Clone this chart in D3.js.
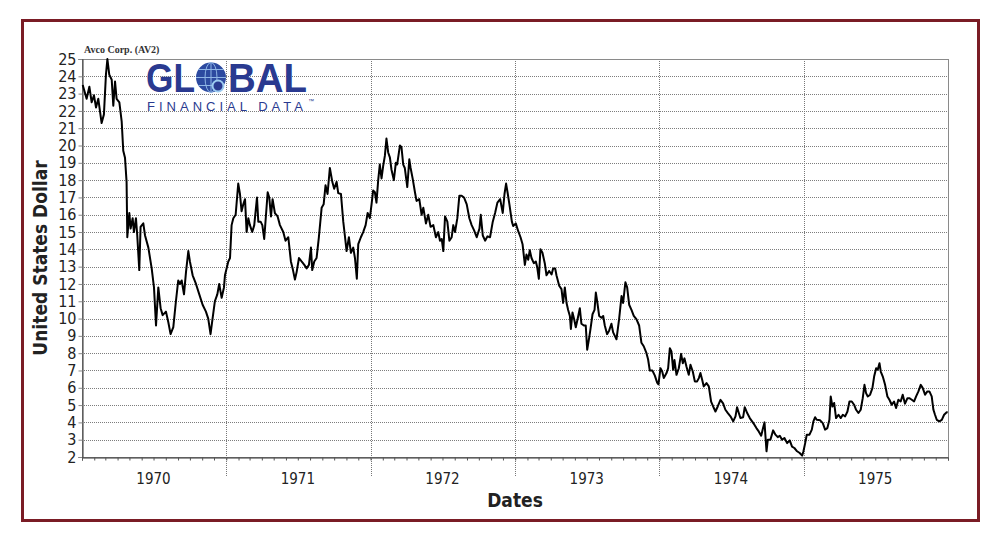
<!DOCTYPE html>
<html>
<head>
<meta charset="utf-8">
<script src="https://cdn.jsdelivr.net/npm/d3@7"></script>
<style>
  body { margin: 0; background: #fff; }
  svg { display: block; }
</style>
</head>
<body>
<div id="chart"></div>
<script>
// Price data, decimal years and US dollars, one block per year
const t1970 = [1970.005, 1970.032, 1970.051, 1970.067, 1970.083, 1970.097, 1970.113, 1970.136, 1970.152, 1970.166, 1970.176, 1970.189, 1970.206, 1970.217, 1970.229, 1970.240, 1970.259, 1970.275, 1970.286, 1970.298, 1970.309, 1970.314, 1970.328, 1970.337, 1970.351, 1970.360, 1970.374, 1970.383, 1970.397, 1970.406, 1970.425, 1970.437, 1970.460, 1970.483, 1970.499, 1970.513, 1970.529, 1970.545, 1970.559, 1970.582, 1970.598, 1970.614, 1970.633, 1970.651, 1970.667, 1970.679, 1970.691, 1970.707, 1970.721, 1970.737, 1970.748, 1970.767, 1970.790, 1970.813, 1970.836, 1970.859, 1970.875, 1970.891, 1970.905, 1970.921, 1970.938, 1970.951, 1970.968, 1970.984];
const p1970 = [23.5, 22.7, 23.4, 22.5, 22.9, 22.2, 22.7, 21.3, 21.8, 24.1, 25.0, 24.1, 23.8, 22.3, 23.7, 22.7, 22.5, 21.4, 19.7, 19.3, 17.9, 14.7, 16.1, 15.2, 15.8, 15.0, 15.8, 14.8, 12.8, 15.3, 15.5, 14.8, 14.1, 12.9, 11.8, 9.6, 11.8, 10.6, 10.2, 10.4, 9.8, 9.1, 9.5, 11.0, 12.2, 12.0, 12.2, 11.4, 12.7, 13.9, 13.3, 12.5, 12.0, 11.4, 10.8, 10.4, 10.0, 9.1, 10.0, 11.0, 11.4, 12.0, 11.2, 11.8];

const t1971 = [1970.991, 1971.014, 1971.026, 1971.037, 1971.049, 1971.065, 1971.083, 1971.095, 1971.106, 1971.118, 1971.130, 1971.141, 1971.153, 1971.164, 1971.180, 1971.194, 1971.213, 1971.222, 1971.238, 1971.250, 1971.263, 1971.287, 1971.298, 1971.310, 1971.321, 1971.337, 1971.356, 1971.372, 1971.395, 1971.411, 1971.430, 1971.448, 1971.460, 1971.476, 1971.488, 1971.504, 1971.522, 1971.541, 1971.557, 1971.573, 1971.587, 1971.596, 1971.610, 1971.626, 1971.642, 1971.661, 1971.675, 1971.688, 1971.702, 1971.718, 1971.735, 1971.748, 1971.765, 1971.776, 1971.795, 1971.811, 1971.822, 1971.834, 1971.850, 1971.864, 1971.880, 1971.892, 1971.905, 1971.915, 1971.933, 1971.949, 1971.966, 1971.980];
const p1971 = [12.5, 13.3, 13.5, 15.4, 15.8, 16.0, 17.8, 17.2, 16.2, 16.6, 16.9, 15.0, 15.8, 15.4, 15.0, 15.4, 17.0, 15.6, 15.6, 15.4, 14.6, 17.3, 17.0, 15.9, 16.9, 16.1, 15.9, 15.4, 15.0, 14.5, 14.7, 13.3, 12.9, 12.25, 12.7, 13.5, 13.3, 13.1, 12.9, 13.1, 14.1, 12.8, 13.3, 13.5, 14.7, 16.4, 16.6, 17.7, 17.2, 18.7, 17.9, 17.5, 17.9, 17.25, 17.2, 15.6, 14.8, 13.9, 14.7, 13.8, 14.1, 13.5, 12.3, 14.3, 14.7, 15.0, 15.4, 16.1];

const t1972 = [1971.995, 1972.007, 1972.018, 1972.030, 1972.041, 1972.053, 1972.064, 1972.076, 1972.087, 1972.099, 1972.110, 1972.122, 1972.134, 1972.145, 1972.161, 1972.175, 1972.184, 1972.203, 1972.214, 1972.226, 1972.237, 1972.254, 1972.268, 1972.277, 1972.291, 1972.307, 1972.318, 1972.337, 1972.353, 1972.365, 1972.383, 1972.399, 1972.415, 1972.434, 1972.452, 1972.468, 1972.480, 1972.492, 1972.503, 1972.515, 1972.531, 1972.545, 1972.561, 1972.572, 1972.584, 1972.600, 1972.614, 1972.630, 1972.646, 1972.665, 1972.683, 1972.699, 1972.716, 1972.734, 1972.753, 1972.762, 1972.776, 1972.792, 1972.808, 1972.826, 1972.845, 1972.861, 1972.877, 1972.896, 1972.914, 1972.926, 1972.937, 1972.947, 1972.960, 1972.977];
const p1972 = [15.8, 16.6, 17.4, 17.3, 16.7, 18.0, 18.9, 18.1, 18.8, 19.4, 20.4, 19.6, 19.3, 18.6, 18.0, 19.0, 18.9, 20.0, 19.9, 18.9, 18.7, 17.6, 19.2, 18.7, 18.1, 17.3, 16.8, 16.9, 16.0, 16.4, 15.5, 16.0, 15.3, 15.4, 14.7, 15.0, 14.5, 14.6, 13.9, 15.9, 15.6, 14.5, 14.7, 15.4, 15.0, 15.8, 17.1, 17.1, 17.0, 16.6, 15.8, 15.4, 15.1, 14.7, 15.2, 16.0, 14.8, 14.5, 14.75, 14.7, 15.6, 16.1, 16.7, 16.9, 16.1, 17.2, 17.8, 17.3, 16.6, 15.6];

const t1973 = [1972.986, 1973.004, 1973.021, 1973.037, 1973.051, 1973.067, 1973.078, 1973.090, 1973.101, 1973.113, 1973.129, 1973.143, 1973.152, 1973.164, 1973.175, 1973.189, 1973.205, 1973.217, 1973.235, 1973.252, 1973.263, 1973.277, 1973.286, 1973.305, 1973.321, 1973.332, 1973.344, 1973.356, 1973.367, 1973.379, 1973.386, 1973.397, 1973.409, 1973.420, 1973.432, 1973.448, 1973.459, 1973.476, 1973.489, 1973.499, 1973.513, 1973.522, 1973.536, 1973.550, 1973.559, 1973.570, 1973.582, 1973.598, 1973.610, 1973.621, 1973.637, 1973.651, 1973.667, 1973.679, 1973.702, 1973.720, 1973.737, 1973.748, 1973.764, 1973.776, 1973.790, 1973.806, 1973.822, 1973.841, 1973.859, 1973.875, 1973.891, 1973.910, 1973.921, 1973.933, 1973.951, 1973.968, 1973.984, 1973.993];
const p1973 = [15.35, 15.5, 15.05, 14.7, 14.3, 13.1, 13.7, 13.4, 13.95, 13.5, 13.2, 13.3, 13.0, 12.3, 14.0, 13.8, 13.2, 12.5, 12.75, 12.55, 12.9, 12.9, 12.5, 11.9, 11.7, 10.9, 11.8, 10.9, 10.5, 10.15, 9.4, 10.35, 9.95, 9.5, 9.95, 10.6, 9.7, 9.6, 9.6, 8.2, 8.9, 9.4, 10.25, 10.5, 11.5, 10.9, 10.15, 10.05, 10.15, 9.6, 9.1, 9.3, 9.7, 9.2, 8.8, 9.95, 11.3, 10.9, 12.1, 11.8, 10.8, 10.5, 10.15, 9.95, 9.6, 8.6, 8.4, 8.0, 7.65, 7.0, 7.0, 6.7, 6.3, 6.2];

const t1974 = [1974.007, 1974.019, 1974.030, 1974.049, 1974.060, 1974.072, 1974.083, 1974.095, 1974.104, 1974.118, 1974.134, 1974.150, 1974.162, 1974.173, 1974.187, 1974.203, 1974.215, 1974.231, 1974.245, 1974.261, 1974.273, 1974.284, 1974.296, 1974.307, 1974.326, 1974.342, 1974.358, 1974.377, 1974.388, 1974.404, 1974.423, 1974.441, 1974.457, 1974.474, 1974.492, 1974.511, 1974.527, 1974.538, 1974.550, 1974.561, 1974.580, 1974.591, 1974.608, 1974.626, 1974.642, 1974.658, 1974.672, 1974.688, 1974.705, 1974.718, 1974.728, 1974.742, 1974.751, 1974.769, 1974.788, 1974.804, 1974.820, 1974.834, 1974.850, 1974.866, 1974.885, 1974.903, 1974.919, 1974.935, 1974.954, 1974.972, 1974.989];
const p1974 = [7.13, 6.94, 6.56, 6.85, 7.13, 8.29, 8.1, 7.04, 7.6, 6.75, 7.13, 7.96, 7.42, 7.7, 7.23, 6.75, 7.33, 6.94, 6.37, 6.37, 6.56, 6.85, 6.46, 6.08, 6.27, 6.08, 5.2, 4.83, 4.63, 4.92, 5.3, 5.1, 4.73, 4.54, 4.35, 4.06, 4.35, 4.88, 4.54, 4.25, 4.3, 4.88, 4.54, 4.25, 4.06, 3.87, 3.67, 3.48, 3.23, 3.67, 4.0, 2.33, 3.0, 3.0, 3.54, 3.29, 3.15, 3.23, 3.0, 3.1, 2.8, 2.96, 2.6, 2.52, 2.33, 2.23, 2.08];

const t1975 = [1974.998, 1975.010, 1975.021, 1975.040, 1975.056, 1975.067, 1975.079, 1975.090, 1975.114, 1975.132, 1975.148, 1975.164, 1975.178, 1975.187, 1975.199, 1975.211, 1975.224, 1975.241, 1975.257, 1975.271, 1975.287, 1975.303, 1975.317, 1975.333, 1975.349, 1975.363, 1975.379, 1975.395, 1975.409, 1975.421, 1975.432, 1975.444, 1975.460, 1975.476, 1975.488, 1975.502, 1975.513, 1975.525, 1975.534, 1975.548, 1975.564, 1975.580, 1975.594, 1975.610, 1975.626, 1975.640, 1975.656, 1975.672, 1975.686, 1975.702, 1975.719, 1975.732, 1975.749, 1975.765, 1975.779, 1975.795, 1975.811, 1975.825, 1975.841, 1975.857, 1975.871, 1975.887, 1975.899, 1975.910, 1975.922, 1975.940, 1975.957, 1975.973, 1975.991, 1975.998];
const p1975 = [2.33, 2.8, 3.29, 3.29, 3.58, 4.06, 4.3, 4.15, 4.12, 3.96, 3.58, 3.67, 4.15, 5.5, 4.92, 5.12, 4.25, 4.44, 4.25, 4.44, 4.35, 4.63, 5.21, 5.21, 5.02, 4.73, 4.54, 4.73, 5.4, 6.17, 5.69, 5.5, 5.6, 5.98, 6.65, 7.13, 7.04, 7.42, 6.94, 6.65, 6.17, 5.5, 5.31, 5.02, 5.21, 4.83, 5.31, 5.21, 5.6, 5.08, 5.4, 5.4, 5.31, 5.21, 5.5, 5.79, 6.17, 5.98, 5.6, 5.79, 5.79, 5.5, 4.73, 4.44, 4.15, 4.06, 4.15, 4.44, 4.58, 4.58];

const years = [1970, 1971, 1972, 1973, 1974, 1975];
const yTicks = d3.range(2, 26);
const chartTitle = "Avco Corp. (AV2)";
const yTitle = "United States Dollar";
const xTitle = "Dates";

// turn decimal year into a Date
function decYear(t) {
  const y = Math.floor(t);
  const start = new Date(y, 0, 1), end = new Date(y + 1, 0, 1);
  return new Date(+start + (t - y) * (end - start));
}

// Build one series out of the yearly blocks
const series = [];
[[t1970, p1970], [t1971, p1971], [t1972, p1972], [t1973, p1973], [t1974, p1974], [t1975, p1975]]
  .forEach(([ts, ps]) => {
    const n = Math.min(ts.length, ps.length);
    for (let i = 0; i < n; i++) series.push({ date: decYear(ts[i]), value: ps[i] });
  });

const width = 1000, height = 544;
const margin = { top: 59, right: 52, bottom: 87, left: 82 };

const svg = d3.select("#chart").append("svg")
  .attr("width", width)
  .attr("height", height);

// Outer frame
svg.append("rect")
  .attr("x", 22.5).attr("y", 20.5)
  .attr("width", 956).attr("height", 500)
  .attr("fill", "#fff")
  .attr("stroke", "#7a1c25")
  .attr("stroke-width", 3);

const x = d3.scaleTime()
  .domain([new Date(1970, 0, 1), new Date(1976, 0, 1)])
  .range([margin.left, width - margin.right]);

const y = d3.scaleLinear()
  .domain([2, 25])
  .range([height - margin.bottom, margin.top]);

// Horizontal gridlines
svg.append("g")
  .selectAll("line")
  .data(yTicks.filter(d => d > 2 && d < 25))
  .enter().append("line")
  .attr("x1", margin.left).attr("x2", width - margin.right)
  .attr("y1", d => Math.round(y(d)) + 0.5).attr("y2", d => Math.round(y(d)) + 0.5)
  .attr("stroke", "#7d7d7d")
  .attr("stroke-dasharray", "1,1");

// Year separators, they run a bit below the axis
svg.append("g")
  .selectAll("line")
  .data(years.slice(1))
  .enter().append("line")
  .attr("x1", d => Math.round(x(new Date(d, 0, 1))) + 0.5)
  .attr("x2", d => Math.round(x(new Date(d, 0, 1))) + 0.5)
  .attr("y1", margin.top).attr("y2", height - margin.bottom + 20)
  .attr("stroke", "#777")
  .attr("stroke-dasharray", "1,1");

// Plot box
svg.append("rect")
  .attr("x", margin.left + 0.5).attr("y", margin.top + 0.5)
  .attr("width", width - margin.left - margin.right)
  .attr("height", height - margin.top - margin.bottom)
  .attr("fill", "none")
  .attr("stroke", "#8a8a8a");

// Logo
const logo = svg.append("g").attr("fill", "#2a3a90");
logo.append("text")
  .attr("x", 146).attr("y", 91.5)
  .attr("font-family", "Liberation Sans, Arial").attr("font-weight", "bold")
  .attr("font-size", 40)
  .attr("textLength", 49).attr("lengthAdjust", "spacingAndGlyphs")
  .text("GL");
logo.append("text")
  .attr("x", 228).attr("y", 91.5)
  .attr("font-family", "Liberation Sans, Arial").attr("font-weight", "bold")
  .attr("font-size", 40)
  .attr("textLength", 79).attr("lengthAdjust", "spacingAndGlyphs")
  .text("BAL");
const globe = logo.append("g");
globe.append("circle").attr("cx", 211).attr("cy", 77.5).attr("r", 15).attr("fill", "#2c4aa0");
globe.append("ellipse").attr("cx", 211).attr("cy", 77.5).attr("rx", 6).attr("ry", 15)
  .attr("fill", "none").attr("stroke", "#8fb6e6").attr("stroke-width", 1);
[-8, 0, 8].forEach(dy => {
  globe.append("line")
    .attr("x1", 211 - Math.sqrt(225 - dy * dy)).attr("x2", 211 + Math.sqrt(225 - dy * dy))
    .attr("y1", 77.5 + dy).attr("y2", 77.5 + dy)
    .attr("stroke", "#8fb6e6").attr("stroke-width", 1);
});
globe.append("line").attr("x1", 211).attr("x2", 211).attr("y1", 62.5).attr("y2", 92.5)
  .attr("stroke", "#8fb6e6").attr("stroke-width", 1);
globe.append("circle").attr("cx", 218).attr("cy", 86).attr("r", 5.5)
  .attr("fill", "#2a3a90").attr("stroke", "#9ccbf0").attr("stroke-width", 2);
logo.append("text")
  .attr("x", 147).attr("y", 110.5)
  .attr("font-family", "Liberation Sans, Arial").attr("font-size", 13)
  .attr("textLength", 156).attr("lengthAdjust", "spacing")
  .text("FINANCIAL DATA");
logo.append("text")
  .attr("x", 308).attr("y", 103)
  .attr("font-family", "Liberation Sans, Arial").attr("font-size", 6)
  .text("™");

// Y axis
const yAxis = svg.append("g")
  .attr("transform", `translate(${margin.left + 0.5},0)`)
  .call(d3.axisLeft(y).tickValues(yTicks).tickSize(4).tickPadding(2).tickFormat(d3.format("d")));
yAxis.select(".domain").attr("stroke", "#333");
yAxis.selectAll(".tick line").attr("stroke", "#888");
yAxis.selectAll("text")
  .attr("font-family", "DejaVu Sans Condensed, DejaVu Sans")
  .attr("font-size", 16)
  .attr("fill", "#222");

// X axis: monthly ticks, year labels centred in each year
const xAxis = svg.append("g")
  .attr("transform", `translate(0,${height - margin.bottom + 0.5})`)
  .call(d3.axisBottom(x).ticks(d3.timeMonth.every(1)).tickSize(3).tickFormat(""));
xAxis.select(".domain").attr("stroke", "#333");
xAxis.selectAll(".tick line").attr("stroke", "#555");

svg.append("g")
  .selectAll("text")
  .data(years)
  .enter().append("text")
  .attr("x", d => x(new Date(d, 6, 1)))
  .attr("y", height - margin.bottom + 27)
  .attr("text-anchor", "middle")
  .attr("font-family", "DejaVu Sans Condensed, DejaVu Sans")
  .attr("font-size", 15)
  .attr("fill", "#222")
  .text(d => d);

// Price line
const line = d3.line()
  .x(d => x(d.date))
  .y(d => y(d.value));

svg.append("path")
  .datum(series)
  .attr("fill", "none")
  .attr("stroke", "#000")
  .attr("stroke-width", 2)
  .attr("stroke-linejoin", "round")
  .attr("d", line);

// Titles
svg.append("text")
  .attr("x", 84).attr("y", 53)
  .attr("font-family", "Liberation Serif, DejaVu Serif")
  .attr("font-weight", "bold")
  .attr("font-size", 10)
  .attr("fill", "#333")
  .text(chartTitle);

svg.append("text")
  .attr("transform", `translate(47,${(margin.top + height - margin.bottom) / 2}) rotate(-90)`)
  .attr("text-anchor", "middle")
  .attr("font-family", "DejaVu Sans Condensed, DejaVu Sans")
  .attr("font-weight", "bold")
  .attr("font-size", 19)
  .attr("fill", "#222")
  .text(yTitle);

svg.append("text")
  .attr("x", (margin.left + width - margin.right) / 2)
  .attr("y", 507)
  .attr("text-anchor", "middle")
  .attr("font-family", "DejaVu Sans Condensed, DejaVu Sans")
  .attr("font-weight", "bold")
  .attr("font-size", 19)
  .attr("fill", "#222")
  .text(xTitle);
</script>
</body>
</html>
